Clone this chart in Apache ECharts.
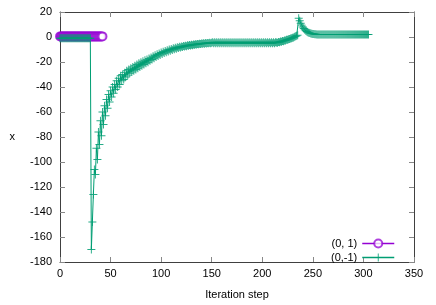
<!DOCTYPE html>
<html><head><meta charset="utf-8">
<script src="https://cdn.jsdelivr.net/npm/echarts@6/dist/echarts.min.js"></script>
<style>html,body{margin:0;padding:0;background:#fff}#c{width:436px;height:305px}</style>
</head><body><div id="c"></div>
<script>
var xTicks = [0, 50, 100, 150, 200, 250, 300, 350];
var yTicks = [-180, -160, -140, -120, -100, -80, -60, -40, -20, 0, 20];
var seriesNames = ['(0, 1)', '(0,-1)'];
var purpleSteps = [0,1,2,3,4,5,6,7,8,9,10,11,12,13,14,15,16,17,18,19,20,21,22,23,24,25,26,27,28,29,30,31,32,33,34,35,36,37,38,39,40,41,42];
var purpleValues = [0.5,0.5,0.5,0.5,0.5,0.5,0.5,0.5,0.5,0.5,0.5,0.5,0.5,0.5,0.5,0.5,0.5,0.5,0.5,0.5,0.5,0.5,0.5,0.5,0.5,0.5,0.5,0.5,0.5,0.5,0.5,0.5,0.5,0.5,0.5,0.5,0.5,0.5,0.5,0.5,0.5,0.5,0.5];
var greenStart = 0;
var greenValues = [
-1,-1,-1,-1,-1,-1,-1,-1,-1,-1,
-1,-1,-1,-1,-1,-1,-1,-1,-1,-1,
-1,-1,-1,-1,-1,-1,-1,-1,-1,-1,
-1,-170,-148,-126,-106,-110,-89,-98,-76,-86,
-67,-79,-60,-70,-55,-63,-50,-57,-46,-52,
-43,-48,-40,-45,-38,-42,-35,-40,-33,-38,
-31,-35,-30,-34,-28.5,-32,-27,-30.5,-26,-29,
-25,-28,-24,-27,-23,-26,-22,-25,-21,-24,
-20.2,-23,-19.4,-22,-18.6,-21,-17.9,-20.2,-17.2,-19,
-16.3,-18,-15.4,-17,-14.6,-16,-13.8,-15.1,-13.1,-14.3,
-12.4,-13.5,-11.7,-12.8,-11.1,-12.1,-10.5,-11.5,-10,-10.9,
-9.5,-10.3,-9,-9.8,-8.6,-9.3,-8.2,-8.8,-7.8,-8.4,
-7.5,-8,-7.2,-7.6,-6.9,-7.3,-6.6,-7,-6.4,-6.7,
-6.1,-6.5,-5.9,-6.2,-5.7,-6,-5.5,-5.8,-5.3,-5.6,
-5.1,-5.4,-5,-5.3,-4.8,-5.1,-4.7,-5,-4.6,-4.9,
-4.5,-4.2,-4.9,-4.2,-4.9,-4.2,-4.9,-4.2,-4.9,-4.2,
-4.9,-4.2,-4.9,-4.2,-4.9,-4.2,-4.9,-4.2,-4.9,-4.2,
-4.9,-4.2,-4.9,-4.2,-4.9,-4.2,-4.9,-4.2,-4.9,-4.2,
-4.9,-4.2,-4.9,-4.2,-4.9,-4.2,-4.9,-4.2,-4.9,-4.2,
-4.9,-4.2,-4.9,-4.2,-4.9,-4.2,-4.9,-4.2,-4.9,-4.2,
-4.9,-4.2,-4.9,-4.2,-4.9,-4.2,-4.9,-4.2,-4.9,-4.2,
-4.9,-4.2,-4.9,-4.2,-4.3,-4.6,-4,-4.2,-3.6,-3.8,
-3.2,-3.3,-2.7,-2.8,-2.2,-2.2,-1.7,-1.6,-1.1,-1,
-0.5,-0.3,0.2,0.6,1,1.5,15,13,11,9.5,
8,6.8,5.8,5,4.4,3.9,3.5,3.2,2.9,2.7,
2.5,2.4,2.3,2.2,2.1,2,2,2,2,2,
2,2,2,2,2,2,2,2,2,2,
2,2,2,2,2,2,2,2,2,2,
2,2,2,2,2,2,2,2,2,2,
2,2,2,2,2,2,2,2,2,2,
2,2,2,2,2,2
];

var purpleData = purpleSteps.map(function(s, i){ return [s, purpleValues[i]]; });
var greenData = greenValues.map(function(v, i){ return [greenStart + i, v]; });

var FONT = 'Liberation Sans, Arial, sans-serif';
var axisCol = '#404040';
var plus = 'path://M-0.6,-5H0.6V-0.6H5V0.6H0.6V5H-0.6V0.6H-5V-0.6H-0.6Z';

var chart = echarts.init(document.getElementById('c'), null, {renderer: 'canvas'});
chart.setOption({
  animation: false,
  backgroundColor: '#fff',
  color: ['#9400d3', '#009e73'],
  textStyle: {fontFamily: FONT},
  grid: {left: 60, right: 22, top: 12, bottom: 39, containLabel: false},
  legend: {
    orient: 'vertical', right: 36, bottom: 37, align: 'right',
    itemWidth: 32, itemHeight: 10, itemGap: 3,
    lineStyle: {width: 1.5},
    textStyle: {fontFamily: FONT, fontSize: 11, color: '#000'},
    data: seriesNames
  },
  xAxis: [{
    type: 'value', min: xTicks[0], max: xTicks[xTicks.length-1], interval: 50,
    name: 'Iteration step', nameLocation: 'middle', nameGap: 27,
    nameTextStyle: {fontFamily: FONT, fontSize: 11, color: '#000'},
    axisLine: {show: true, onZero: false, lineStyle: {color: axisCol, width: 1}},
    axisTick: {show: true, inside: true, length: 5, lineStyle: {color: '#888'}},
    axisLabel: {fontFamily: FONT, fontSize: 11, color: '#000', margin: 6},
    splitLine: {show: false}
  }, {
    type: 'value', position: 'top', min: xTicks[0], max: xTicks[xTicks.length-1], interval: 50,
    axisLine: {show: true, onZero: false, lineStyle: {color: axisCol, width: 1}},
    axisTick: {show: true, inside: true, length: 5, lineStyle: {color: '#888'}},
    axisLabel: {show: false}, splitLine: {show: false}
  }],
  yAxis: [{
    type: 'value', min: yTicks[0], max: yTicks[yTicks.length-1], interval: 20,
    name: 'x', nameLocation: 'middle', nameGap: 45, nameRotate: 0,
    nameTextStyle: {fontFamily: FONT, fontSize: 11, color: '#000'},
    axisLine: {show: true, onZero: false, lineStyle: {color: axisCol, width: 1}},
    axisTick: {show: true, inside: true, length: 5, lineStyle: {color: '#888'}},
    axisLabel: {fontFamily: FONT, fontSize: 11, color: '#000', margin: 8},
    splitLine: {show: false}
  }, {
    type: 'value', position: 'right', min: yTicks[0], max: yTicks[yTicks.length-1], interval: 20,
    axisLine: {show: true, onZero: false, lineStyle: {color: axisCol, width: 1}},
    axisTick: {show: true, inside: true, length: 5, lineStyle: {color: '#888'}},
    axisLabel: {show: false}, splitLine: {show: false}
  }],
  series: [{
    name: seriesNames[0], type: 'line', data: purpleData, color: '#9400d3',
    xAxisIndex: 0, yAxisIndex: 0,
    symbol: 'emptyCircle', symbolSize: 8, showAllSymbol: true,
    lineStyle: {color: '#9400d3', width: 1},
    itemStyle: {color: '#9400d3', borderColor: '#9400d3', borderWidth: 1, opacity: 0.75},
    emphasis: {disabled: true}
  }, {
    name: seriesNames[1], type: 'line', data: greenData, color: '#009e73',
    xAxisIndex: 0, yAxisIndex: 0,
    symbol: plus, symbolSize: 8, showAllSymbol: true,
    lineStyle: {color: '#009e73', width: 1},
    itemStyle: {color: '#009e73', opacity: 0.85},
    emphasis: {disabled: true}
  }]
});
</script></body></html>
